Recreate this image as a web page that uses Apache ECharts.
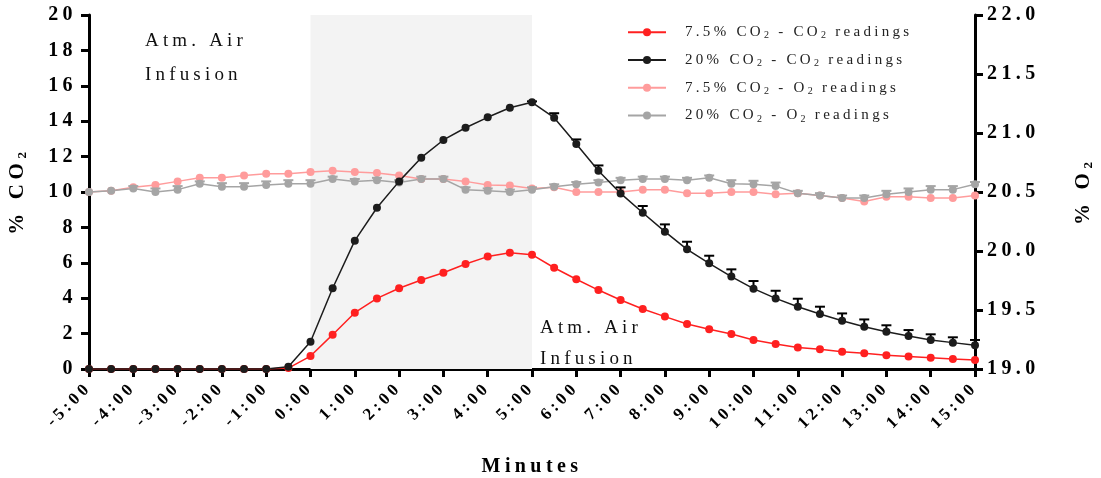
<!DOCTYPE html>
<html>
<head>
<meta charset="utf-8">
<script src="https://cdn.jsdelivr.net/npm/echarts@6/dist/echarts.min.js"></script>
<style>
  html, body { margin: 0; padding: 0; background: #ffffff; }
  #chart { width: 1101px; height: 478px; }
</style>
</head>
<body>
<div id="chart"></div>
<script>
// the original figure uses wide letter spacing everywhere
(function () {
  var proto = CanvasRenderingContext2D.prototype;
  var fill = proto.fillText, measure = proto.measureText;
  function spread(ctx) {
    var m = /(\d+(\.\d+)?)px/.exec(ctx.font);
    if (m && 'letterSpacing' in ctx) ctx.letterSpacing = (parseFloat(m[1]) * 0.22) + 'px';
  }
  proto.fillText = function (t, x, y, w) {
    spread(this);
    return w === undefined ? fill.call(this, t, x, y) : fill.call(this, t, x, y, w);
  };
  proto.measureText = function (t) {
    spread(this);
    return measure.call(this, t);
  };
})();

var times = ['-5:00', '-4:30', '-4:00', '-3:30', '-3:00', '-2:30', '-2:00', '-1:30', '-1:00', '-0:30',
  '0:00', '0:30', '1:00', '1:30', '2:00', '2:30', '3:00', '3:30', '4:00', '4:30',
  '5:00', '5:30', '6:00', '6:30', '7:00', '7:30', '8:00', '8:30', '9:00', '9:30',
  '10:00', '10:30', '11:00', '11:30', '12:00', '12:30', '13:00', '13:30', '14:00', '14:30', '15:00'];

// % CO2 (left axis)
var co2Low = [0, 0, 0, 0, 0, 0, 0, 0, 0, 0.05,
  0.73, 1.94, 3.18, 3.99, 4.56, 5.03, 5.44, 5.93, 6.35, 6.57,
  6.46, 5.72, 5.07, 4.46, 3.9, 3.39, 2.96, 2.54, 2.24, 1.98,
  1.64, 1.41, 1.22, 1.11, 0.98, 0.89, 0.77, 0.7, 0.64, 0.56, 0.51];
var co2High = [0, 0, 0, 0, 0, 0, 0, 0, 0, 0.13,
  1.54, 4.56, 7.25, 9.11, 10.6, 11.94, 12.94, 13.63, 14.22, 14.76,
  15.07, 14.2, 12.71, 11.2, 9.92, 8.83, 7.76, 6.76, 5.97, 5.22,
  4.54, 3.99, 3.52, 3.11, 2.73, 2.39, 2.11, 1.86, 1.64, 1.49, 1.34];
var co2HighErr = [0, 0, 0, 0, 0, 0, 0, 0, 0, 0,
  0, 0, 0, 0, 0, 0, 0, 0, 0, 0,
  0.05, 0.25, 0.26, 0.3, 0.34, 0.38, 0.41, 0.43, 0.43, 0.41,
  0.43, 0.43, 0.45, 0.41, 0.41, 0.41, 0.36, 0.34, 0.32, 0.3, 0.3];

// % O2 (right axis)
var o2Low = [20.5, 20.51, 20.54, 20.56, 20.59, 20.62, 20.62, 20.64, 20.655, 20.655,
  20.67, 20.68, 20.67, 20.66, 20.64, 20.61, 20.61, 20.59, 20.56, 20.555,
  20.53, 20.54, 20.5, 20.5, 20.5, 20.52, 20.52, 20.49, 20.49, 20.5,
  20.5, 20.48, 20.49, 20.47, 20.45, 20.42, 20.46, 20.46, 20.45, 20.45, 20.47];
var o2High = [20.5, 20.51, 20.53, 20.5, 20.52, 20.57, 20.545, 20.545, 20.56, 20.57,
  20.57, 20.61, 20.59, 20.6, 20.58, 20.61, 20.61, 20.52, 20.51, 20.5,
  20.52, 20.545, 20.565, 20.58, 20.6, 20.61, 20.61, 20.6, 20.62, 20.57,
  20.565, 20.55, 20.49, 20.47, 20.45, 20.45, 20.48, 20.5, 20.52, 20.52, 20.565];
var o2HighErr = [0, 0, 0.02, 0.03, 0.03, 0.02, 0.03, 0.03, 0.03, 0.03,
  0.03, 0.02, 0.02, 0.02, 0.02, 0.02, 0.02, 0.02, 0.02, 0.02,
  0.02, 0.02, 0.02, 0.02, 0.02, 0.02, 0.02, 0.02, 0.02, 0.03,
  0.03, 0.03, 0.02, 0.02, 0.02, 0.02, 0.03, 0.03, 0.03, 0.03, 0.02];

var names = ['7.5% CO2 - CO2 readings', '20% CO2 - CO2 readings', '7.5% CO2 - O2 readings', '20% CO2 - O2 readings'];
var colors = ['#ff2020', '#1c1c1c', '#ff9c9c', '#a5a5a5'];

var serif = 'Liberation Serif';
var sub = { fontFamily: serif, fontSize: 10, padding: [7, 0, 0, 0] };

function errorBars(values, errs, axisIdx, color) {
  var data = values.map(function (v, i) { return [i, v, errs[i]]; });
  return {
    type: 'custom',
    yAxisIndex: axisIdx,
    silent: true,
    z: 3,
    data: data,
    renderItem: function (params, api) {
      if (!api.value(2)) return;
      var p = api.coord([api.value(0), api.value(1)]);
      var q = api.coord([api.value(0), api.value(1) + api.value(2)]);
      var st = { stroke: color, lineWidth: 2 };
      return {
        type: 'group',
        children: [
          { type: 'line', shape: { x1: p[0], y1: p[1], x2: q[0], y2: q[1] }, style: st },
          { type: 'line', shape: { x1: q[0] - 5, y1: q[1], x2: q[0] + 5, y2: q[1] }, style: st }
        ]
      };
    }
  };
}

function lineSeries(idx, values, axisIdx, z) {
  return {
    name: names[idx],
    type: 'line',
    yAxisIndex: axisIdx,
    data: values,
    z: z,
    symbol: 'circle',
    symbolSize: 8,
    lineStyle: { width: 1.5, color: colors[idx] },
    itemStyle: { color: colors[idx] }
  };
}

var chart = echarts.init(document.getElementById('chart'));

var axisLine = { show: true, lineStyle: { color: '#000', width: 3 } };
var axisTick = { show: true, length: 8, lineStyle: { color: '#000', width: 3 } };
var tickFont = { fontFamily: serif, fontWeight: 'bold', fontSize: 20, color: '#000' };
var nameSub = { fontFamily: serif, fontWeight: 'bold', fontSize: 13, padding: [10, 0, 0, 0] };

var airText = { fontFamily: serif, fontSize: 19, fill: '#111' };

chart.setOption({
  animation: false,
  backgroundColor: '#ffffff',
  grid: { left: 89, right: 126, top: 15, bottom: 109, outerBoundsMode: 'none' },
  legend: {
    orient: 'vertical',
    left: 622,
    top: 18,
    itemWidth: 38,
    itemHeight: 10,
    itemGap: 9,
    data: names,
    formatter: function (n) { return n.replace(/O2/g, 'O{s|2}'); },
    textStyle: { fontFamily: serif, fontSize: 15, color: '#222', padding: [0, 0, 0, 14], rich: { s: sub } }
  },
  xAxis: {
    type: 'category',
    data: times,
    boundaryGap: false,
    axisLine: axisLine,
    axisTick: { show: true, interval: 1, length: 8, lineStyle: { color: '#000', width: 3 } },
    axisLabel: { interval: 1, rotate: 45, margin: 16, fontFamily: serif, fontWeight: 'bold', fontSize: 17, color: '#000' },
    splitLine: { show: false },
    name: 'Minutes',
    nameLocation: 'middle',
    nameGap: 86,
    nameTextStyle: { fontFamily: serif, fontWeight: 'bold', fontSize: 20, color: '#000' }
  },
  yAxis: [
    {
      type: 'value',
      min: 0, max: 20, interval: 2,
      position: 'left',
      axisLine: axisLine,
      axisTick: axisTick,
      axisLabel: Object.assign({ margin: 12 }, tickFont),
      splitLine: { show: false },
      name: '% CO{s|2}',
      nameLocation: 'middle',
      nameRotate: 90,
      nameGap: 58,
      nameTextStyle: { fontFamily: serif, fontWeight: 'bold', fontSize: 21, color: '#000', rich: { s: nameSub } }
    },
    {
      type: 'value',
      min: 19, max: 22, interval: 0.5,
      position: 'right',
      axisLine: axisLine,
      axisTick: axisTick,
      axisLabel: Object.assign({ margin: 12, formatter: function (v) { return v.toFixed(1); } }, tickFont),
      splitLine: { show: false },
      name: '% O{s|2}',
      nameLocation: 'middle',
      nameRotate: 90,
      nameGap: 96,
      nameTextStyle: { fontFamily: serif, fontWeight: 'bold', fontSize: 21, color: '#000', rich: { s: nameSub } }
    }
  ],
  graphic: [
    { type: 'text', left: 145, top: 29, style: Object.assign({ text: 'Atm. Air' }, airText) },
    { type: 'text', left: 145, top: 63, style: Object.assign({ text: 'Infusion' }, airText) },
    { type: 'text', left: 374, top: 24, style: { text: 'CO{s|2}', fontFamily: serif, fontSize: 19, fill: '#111', rich: { s: { fontFamily: serif, fontSize: 13, padding: [9, 0, 0, 0] } } } },
    { type: 'text', left: 350, top: 64, style: Object.assign({ text: 'Infusion' }, airText) },
    { type: 'text', left: 540, top: 316, style: Object.assign({ text: 'Atm. Air' }, airText) },
    { type: 'text', left: 540, top: 347, style: Object.assign({ text: 'Infusion' }, airText) }
  ],
  series: [
    Object.assign(lineSeries(2, o2Low, 1, 2), {
      markArea: {
        silent: true,
        itemStyle: { color: '#f3f3f3' },
        data: [[{ xAxis: '0:00' }, { xAxis: '5:00' }]]
      }
    }),
    lineSeries(3, o2High, 1, 2),
    errorBars(o2High, o2HighErr, 1, colors[3]),
    lineSeries(0, co2Low, 0, 4),
    lineSeries(1, co2High, 0, 4),
    errorBars(co2High, co2HighErr, 0, '#000')
  ]
});
</script>
</body>
</html>
